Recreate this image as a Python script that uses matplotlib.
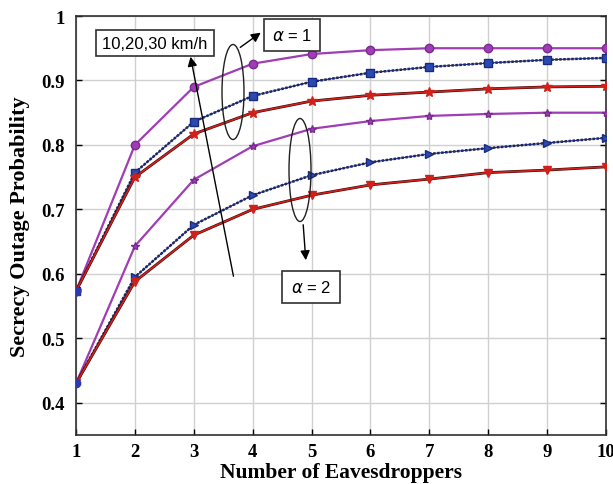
import matplotlib
matplotlib.use("Agg")
import matplotlib.pyplot as plt
from matplotlib.patches import Ellipse

eaves = [1, 2, 3, 4, 5, 6, 7, 8, 9, 10]
a1_10 = [0.573, 0.800, 0.890, 0.926, 0.941, 0.947, 0.950, 0.950, 0.950, 0.950]
a1_20 = [0.573, 0.757, 0.836, 0.876, 0.898, 0.912, 0.921, 0.927, 0.932, 0.935]
a1_30 = [0.573, 0.750, 0.817, 0.850, 0.868, 0.877, 0.882, 0.887, 0.890, 0.891]
a2_10 = [0.430, 0.643, 0.746, 0.798, 0.825, 0.837, 0.845, 0.848, 0.850, 0.850]
a2_20 = [0.430, 0.595, 0.676, 0.722, 0.753, 0.773, 0.786, 0.795, 0.803, 0.811]
a2_30 = [0.430, 0.588, 0.660, 0.700, 0.722, 0.738, 0.747, 0.757, 0.761, 0.766]

W, H = 613, 485
fig = plt.figure(figsize=(W / 100, H / 100), dpi=100)
L, R, T, B = 76, 606, 17, 436
ax = fig.add_axes([L / W, 1 - B / H, (R - L) / W, (B - T) / H])
ax.set_xlim(1, 10)
ax.set_ylim(0.35, 1.0)

mag = "#a03cb4"
navy = "#1a2a80"
red = "#d0201a"

def magenta(y, m):
    ax.plot(eaves, y, color=mag, lw=1.6, marker=m, ms=6, mfc=mag, mec="#7a2a90", zorder=3)

def blue(y, m):
    ax.plot(eaves, y, color="#222244", lw=1.8, ls=(0, (1, 0.6)), zorder=3)
    ax.plot(eaves, y, color=navy, lw=0.8, marker=m, ms=6, mfc="#2a4ab0", mec=navy, zorder=3)

def redl(y, m, ms=6):
    ax.plot(eaves, y, color="#3a0a0a", lw=2.0, zorder=3)
    ax.plot(eaves, y, color=red, lw=1.2, marker=m, ms=ms, mfc=red, mec=red, zorder=3)

magenta(a1_10, "o")
blue(a1_20, "s")
redl(a1_30, "*", 7)
magenta(a2_10, "*")
blue(a2_20, ">")
redl(a2_30, "v")

ax.plot([eaves[0]], [a1_10[0]], "o", color="#2a3ab0", ms=6, zorder=4)
ax.plot([eaves[0]], [a2_10[0]], "o", color="#2a3ab0", ms=6, zorder=4)

ax.grid(True, color="#d0d0d0", lw=1.0)
ax.set_axisbelow(True)
ax.set_xticks(eaves)
ax.set_yticks([0.4, 0.5, 0.6, 0.7, 0.8, 0.9, 1.0])
ax.set_yticklabels(["0.4", "0.5", "0.6", "0.7", "0.8", "0.9", "1"])
ax.tick_params(direction="in", length=4, width=1, labelsize=13.5, pad=8, top=False, right=True)
ax.tick_params(axis="x", pad=6)
for lab in ax.get_xticklabels() + ax.get_yticklabels():
    lab.set_fontfamily("Liberation Serif")
    lab.set_fontweight("bold")
for s in ax.spines.values():
    s.set_color("#303030")
    s.set_linewidth(1.2)

ax.set_xlabel("Number of Eavesdroppers", fontfamily="Liberation Serif", fontweight="bold",
              fontsize=15.5, labelpad=1)
ax.set_ylabel("Secrecy Outage Probability", fontfamily="Liberation Serif", fontweight="bold",
              fontsize=16, labelpad=8)

def px(x, y):
    return (1 + (x - L) / (R - L) * 9, 1.0 - (y - T) / (B - T) * 0.65)

def pw(w, h):
    return (w / (R - L) * 9, h / (B - T) * 0.65)

e1c = px(233, 93); e1s = pw(22, 95)
ax.add_patch(Ellipse(e1c, e1s[0], e1s[1], fill=False, color="#202020", lw=1.0, zorder=5))
e2c = px(300, 171); e2s = pw(22, 103)
ax.add_patch(Ellipse(e2c, e2s[0], e2s[1], fill=False, color="#202020", lw=1.0, zorder=5))

ap = dict(arrowstyle="-|>", color="black", lw=1.0, mutation_scale=14)
ax.annotate("", xy=px(263, 32), xytext=px(238, 50), arrowprops=ap, zorder=6)
ax.annotate("", xy=px(306, 264), xytext=px(303, 223), arrowprops=ap, zorder=6)
ax.annotate("", xy=px(190, 55), xytext=px(234, 280), arrowprops=ap, zorder=6)

bbox = dict(boxstyle="square,pad=0.35", fc="white", ec="#303030", lw=1.2)
ax.text(*px(155, 44), "10,20,30 km/h", fontfamily="Liberation Sans", fontsize=12,
        ha="center", va="center", bbox=bbox, zorder=7)
ax.text(*px(292, 36), r"$\alpha$ = 1", fontfamily="Liberation Sans", fontsize=12,
        ha="center", va="center", bbox=dict(boxstyle="square,pad=0.5", fc="white", ec="#303030", lw=1.2), zorder=7)
ax.text(*px(311, 288), r"$\alpha$ = 2", fontfamily="Liberation Sans", fontsize=12,
        ha="center", va="center", bbox=dict(boxstyle="square,pad=0.5", fc="white", ec="#303030", lw=1.2), zorder=7)

fig.savefig("out.png", dpi=100)
